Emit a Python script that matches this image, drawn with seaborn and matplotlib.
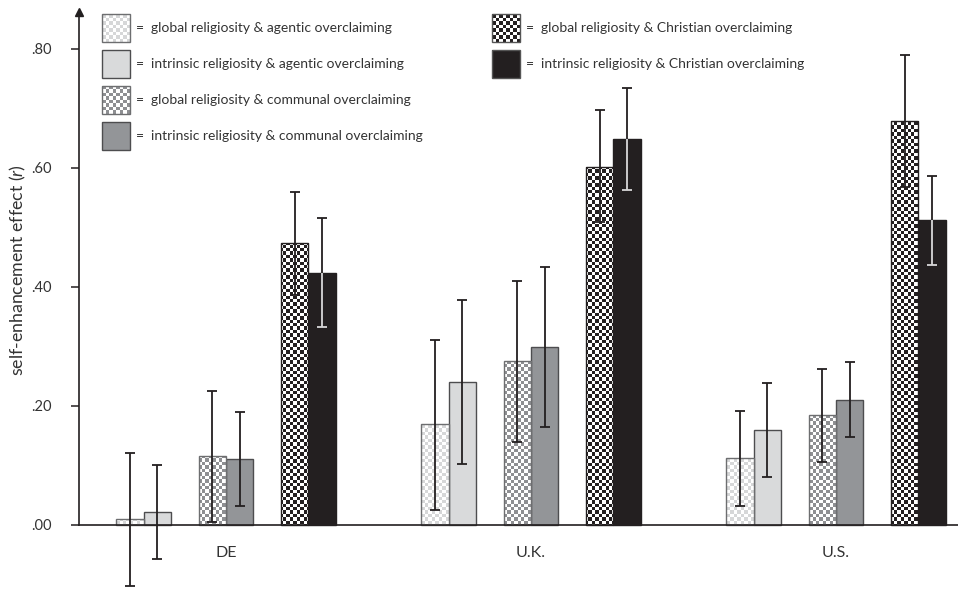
import numpy as np
import pandas as pd
import matplotlib
matplotlib.use("Agg")
import matplotlib.pyplot as plt
import matplotlib.transforms as mtrans
from matplotlib.colors import ListedColormap
from matplotlib.patches import Rectangle
from matplotlib.legend_handler import HandlerBase
import seaborn as sns

# ---------------- data ----------------
countries = ["DE", "U.K.", "U.S."]
conditions = [
    "global religiosity & agentic overclaiming",
    "intrinsic religiosity & agentic overclaiming",
    "global religiosity & communal overclaiming",
    "intrinsic religiosity & communal overclaiming",
    "global religiosity & Christian overclaiming",
    "intrinsic religiosity & Christian overclaiming",
]

de_r = [0.010, 0.021, 0.116, 0.111, 0.473, 0.424]
de_lo = [-0.102, -0.057, 0.005, 0.032, 0.387, 0.332]
de_hi = [0.121, 0.101, 0.225, 0.189, 0.560, 0.515]

uk_r = [0.169, 0.240, 0.275, 0.299, 0.602, 0.648]
uk_lo = [0.025, 0.103, 0.139, 0.165, 0.509, 0.562]
uk_hi = [0.310, 0.378, 0.410, 0.433, 0.697, 0.734]

us_r = [0.113, 0.160, 0.184, 0.210, 0.678, 0.513]
us_lo = [0.032, 0.081, 0.106, 0.147, 0.568, 0.436]
us_hi = [0.192, 0.238, 0.262, 0.273, 0.790, 0.587]

ytick_vals = [0.0, 0.2, 0.4, 0.6, 0.8]
ytick_labels = [".00", ".20", ".40", ".60", ".80"]
y_label = "self-enhancement effect ($\\mathit{r}$)"

# ---------------- styles ----------------
DARK = "#231f20"
fills = ["white", "#d9dadb", "white", "#939598", "white", DARK]
checker = ["#d6d7d8", None, "#8e8f92", None, DARK, None]
edges = ["#6d6e70", "#4d4d4f", "#6d6e70", "#4d4d4f", DARK, DARK]

rows = []
for c, r, lo, hi in zip(countries, [de_r, uk_r, us_r], [de_lo, uk_lo, us_lo], [de_hi, uk_hi, us_hi]):
    for k, cond in enumerate(conditions):
        rows.append(dict(country=c, condition=cond, r=r[k], lo=lo[k], hi=hi[k]))
df = pd.DataFrame(rows)

gap1, gap2 = "_gap1", "_gap2"
hue_order = [conditions[0], conditions[1], gap1, conditions[2], conditions[3], gap2,
             conditions[4], conditions[5]]
palette = {cond: fills[k] for k, cond in enumerate(conditions)}
palette[gap1] = "white"
palette[gap2] = "white"

sns.set_theme(style="ticks")
plt.rcParams["font.family"] = ["Lato", "DejaVu Sans"]
plt.rcParams["mathtext.fontset"] = "custom"
plt.rcParams["mathtext.it"] = "Lato:italic"
plt.rcParams["mathtext.rm"] = "Lato"

W, H = 958, 592
fig = plt.figure(figsize=(W / 100, H / 100), dpi=100)
ax = fig.add_axes([79 / W, 0.0, 1 - 79 / W, 1.0])

TOTAL_W = 0.72
sns.barplot(data=df, x="country", y="r", hue="condition", hue_order=hue_order,
            order=countries, palette=palette, errorbar=None, width=TOTAL_W,
            dodge=True, legend=False, saturation=1, linewidth=1.0,
            edgecolor=DARK, ax=ax)

XLIM = (-0.482, 2.40)
YLIM = (-0.1126, 0.882)
ax.set_xlim(*XLIM)
ax.set_ylim(*YLIM)

slot_w = TOTAL_W / 8
slot_to_cond = {0: 0, 1: 1, 3: 2, 4: 3, 6: 4, 7: 5}

ax_w_px = (1 - 79 / W) * W
ax_h_px = H
cell = 3.4
nx = int(round(ax_w_px / cell))
ny = int(round(ax_h_px / cell))
ii, jj = np.meshgrid(np.arange(nx), np.arange(ny))
board = ((ii + jj) % 2).astype(float)

bars = [p for p in ax.patches if isinstance(p, Rectangle) and p.get_width() > 0]
for p in bars:
    cx = p.get_x() + p.get_width() / 2
    cat = int(round(cx))
    slot = int(round((cx - cat) / slot_w + 3.5))
    k = slot_to_cond[slot]
    p.set_edgecolor(edges[k])
    p.set_linewidth(1.0)
    if checker[k] is not None:
        im = ax.imshow(board, cmap=ListedColormap(["white", checker[k]]),
                       extent=(XLIM[0], XLIM[1], YLIM[0], YLIM[1]), origin="lower",
                       aspect="auto", interpolation="nearest", zorder=p.get_zorder() + 0.05)
        im.set_clip_path(p)
        p.set_facecolor("none")
        p.set_zorder(p.get_zorder() + 0.1)
    # error bars
    row = df[(df.country == countries[cat]) & (df.condition == conditions[k])].iloc[0]
    ax.errorbar(cx, row.r, yerr=[[row.r - row.lo], [row.hi - row.r]], fmt="none",
                ecolor=DARK, elinewidth=1.3, capsize=3.3, capthick=1.3, zorder=5)
    if k == 5:
        ax.vlines(cx, row.lo, row.r, color="#d8d8d8", lw=1.3, zorder=6)
        ax.plot([cx], [row.lo], marker="_", ms=6.6, mew=1.3, color="#d8d8d8", zorder=6)

ax.set_xlim(*XLIM)
ax.set_ylim(*YLIM)

# axes styling
for s in ["top", "right"]:
    ax.spines[s].set_visible(False)
ax.spines["bottom"].set_position(("data", 0))
ax.spines["left"].set_bounds(0, 0.858)
for s in ["bottom", "left"]:
    ax.spines[s].set_color(DARK)
    ax.spines[s].set_linewidth(1.2)
    ax.spines[s].set_zorder(7)
ax.plot([0], [0.862], marker="^", ms=6, color=DARK, clip_on=False,
        transform=mtrans.blended_transform_factory(ax.transAxes, ax.transData), zorder=8)

ax.set_yticks(ytick_vals)
ax.set_yticklabels(ytick_labels)
ax.tick_params(axis="y", direction="out", length=6, width=1.1, color=DARK,
               labelsize=10.5, labelcolor="#333333", pad=14)
ax.tick_params(axis="x", length=0, labelsize=11.5, labelcolor="#333333", pad=15)
ax.set_xlabel("")
ax.set_ylabel(y_label, fontsize=12.8, color="#333333")
ax.yaxis.set_label_coords(-0.058, 0.544)


# ---------------- legend ----------------
class BoxHandler(HandlerBase):
    def __init__(self, fill, check, edge):
        super().__init__()
        self.fill, self.check, self.edge = fill, check, edge

    def create_artists(self, legend, orig_handle, xdescent, ydescent, width, height, fontsize, trans):
        x0, y0 = -xdescent, -ydescent
        arts = [Rectangle((x0, y0), width, height, facecolor=self.fill, edgecolor="none",
                          transform=trans)]
        if self.check is not None:
            n = 8
            cw = width / n
            m = max(1, int(round(height / cw)))
            ch = height / m
            for i in range(n):
                for j in range(m):
                    if (i + j) % 2 == 1:
                        arts.append(Rectangle((x0 + i * cw, y0 + j * ch), cw, ch,
                                              facecolor=self.check, edgecolor="none",
                                              transform=trans))
        arts.append(Rectangle((x0, y0), width, height, facecolor="none",
                              edgecolor=self.edge, lw=1.0, transform=trans))
        return arts


handles = [Rectangle((0, 0), 1, 1) for _ in conditions]
hmap = {h: BoxHandler(fills[k], checker[k], edges[k] if k < 4 else "#555555")
        for k, h in enumerate(handles)}
labels = ["=  " + c for c in conditions]

leg_kw = dict(frameon=False, fontsize=10.0, handlelength=2.02, handleheight=2.73,
              handletextpad=0.45, labelspacing=0.57, borderpad=0, borderaxespad=0,
              loc="upper left", bbox_transform=fig.transFigure)
leg1 = ax.legend(handles[:4], labels[:4], handler_map=hmap,
                 bbox_to_anchor=(102 / W, 1 - 14 / H), **leg_kw)
for t in leg1.get_texts():
    t.set_color("#333333")
ax.add_artist(leg1)
leg2 = ax.legend(handles[4:], labels[4:], handler_map=hmap,
                 bbox_to_anchor=(492 / W, 1 - 14 / H), **leg_kw)
for t in leg2.get_texts():
    t.set_color("#333333")

fig.savefig("out.png", dpi=100)
